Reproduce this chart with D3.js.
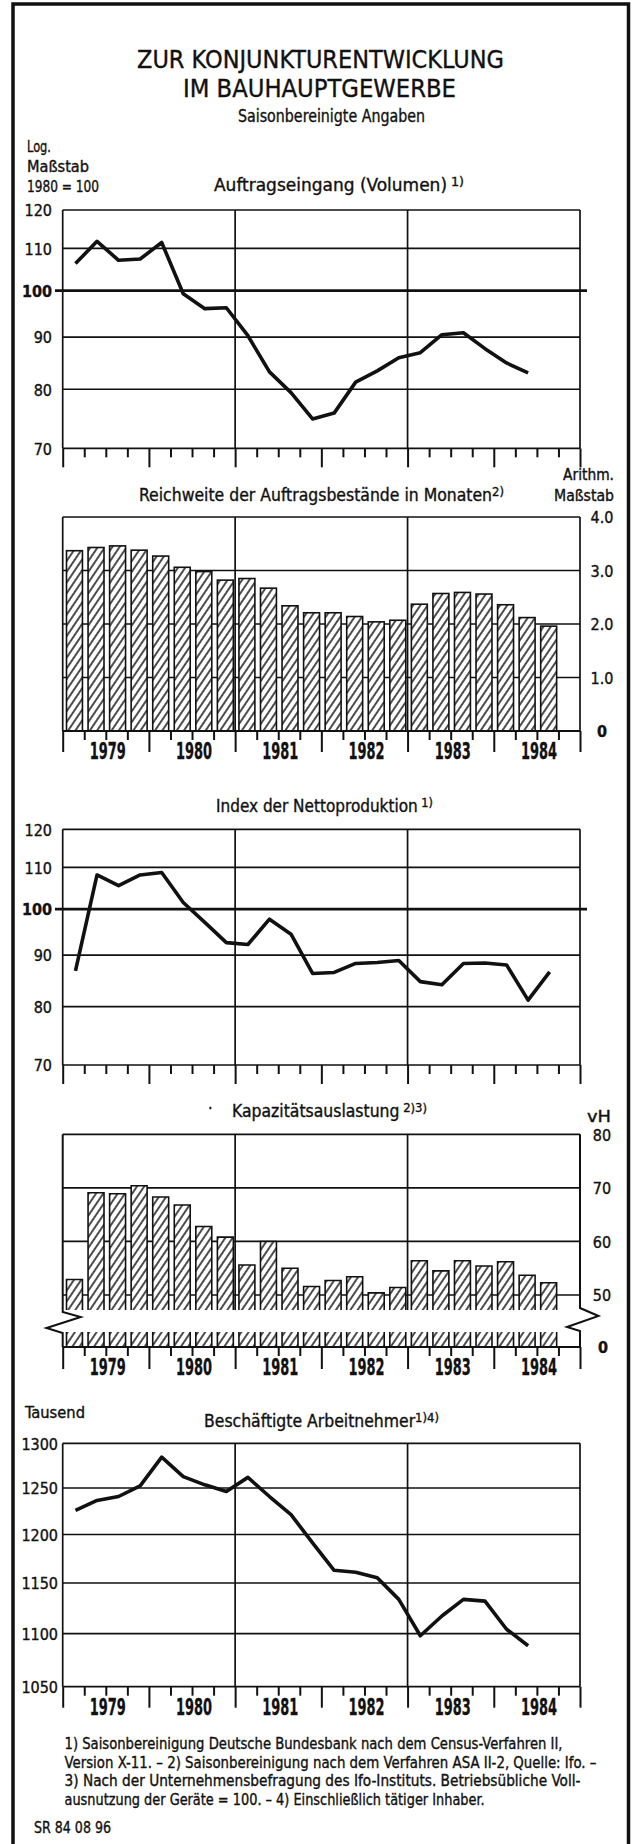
<!DOCTYPE html>
<html>
<head>
<meta charset="utf-8">
<script src="https://cdn.jsdelivr.net/npm/d3@7"></script>
<style>
  body { margin: 0; background: #fff; }
  text { font-family: "Liberation Sans Narrow", "DejaVu Sans Condensed", "Arial Narrow", sans-serif;
         fill: #111; stroke: #111; stroke-width: 0.35px; }
</style>
</head>
<body>
<script>
// quarters on the time axis (1979 I .. 1984 IV), data start with 1979 I
var quarters = ["1979 I","1979 II","1979 III","1979 IV","1980 I","1980 II","1980 III","1980 IV",
                "1981 I","1981 II","1981 III","1981 IV","1982 I","1982 II","1982 III","1982 IV",
                "1983 I","1983 II","1983 III","1983 IV","1984 I","1984 II","1984 III","1984 IV"];
var years = ["1979","1980","1981","1982","1983","1984"];

// Auftragseingang (Volumen), 1980 = 100
var auftrag = [106.3, 111.8, 107.1, 107.4, 111.5, 99.3, 96.0, 96.2, 90.3, 83.2, 79.4,
               74.8, 75.8, 81.3, 83.4, 85.9, 86.9, 90.5, 90.9, 87.7, 84.9, 83.0];
// Reichweite der Auftragsbestaende in Monaten
var reichweite = [3.37, 3.43, 3.46, 3.38, 3.27, 3.06, 2.98, 2.82, 2.85, 2.67, 2.34, 2.21,
                  2.21, 2.14, 2.04, 2.07, 2.37, 2.57, 2.59, 2.56, 2.36, 2.12, 1.96];
// Index der Nettoproduktion
var netto = [86.8, 108.1, 105.5, 108.1, 108.7, 101.5, 97.0, 92.6, 92.2, 97.7, 94.4, 86.3,
             86.5, 88.3, 88.5, 88.9, 84.7, 84.1, 88.3, 88.4, 88.0, 81.2, 86.6];
// Kapazitaetsauslastung in vH
var kapazitaet = [52.9, 69.1, 68.9, 70.4, 68.3, 66.8, 62.8, 60.8, 55.6, 60.0, 55.0, 51.6,
                  52.7, 53.4, 50.4, 51.4, 56.4, 54.5, 56.4, 55.4, 56.2, 53.7, 52.3];
// Beschaeftigte Arbeitnehmer in Tausend
var beschaeftigte = [1225.6, 1236.4, 1240.7, 1252.4, 1284.3, 1262.6, 1253.5, 1246.2, 1261.7,
                     1240.7, 1221.1, 1191.2, 1162.9, 1160.9, 1155.3, 1133.6, 1098.0, 1117.2,
                     1133.6, 1131.9, 1104.3, 1088.4];

var logTicks = [70, 80, 90, 100, 110, 120];
var reichTicks = [0, 1, 2, 3, 4];
var kapTicks = [50, 60, 70, 80];
var beschTicks = [1050, 1100, 1150, 1200, 1250, 1300];

var footnotes = [
  "1) Saisonbereinigung Deutsche Bundesbank nach dem Census-Verfahren II,",
  "Version X-11. \u2013 2) Saisonbereinigung nach dem Verfahren ASA II-2, Quelle: Ifo. \u2013",
  "3) Nach der Unternehmensbefragung des Ifo-Instituts. Betriebs\u00fcbliche Voll-",
  "ausnutzung der Ger\u00e4te = 100. \u2013 4) Einschlie\u00dflich t\u00e4tiger Inhaber."
];
var footLen = [498, 532, 516, 420];

var ink = "#111";
var W = 632, H = 1844;
var left = 62.7, right = 580;

var svg = d3.select("body").append("svg").attr("width", W).attr("height", H);

var defs = svg.append("defs");
var pat = defs.append("pattern").attr("id", "hatch").attr("patternUnits", "userSpaceOnUse")
  .attr("width", 6).attr("height", 6).attr("patternTransform", "rotate(34)");
pat.append("rect").attr("width", 6).attr("height", 6).attr("fill", "#fff");
pat.append("line").attr("x1", 3).attr("y1", -1).attr("x2", 3).attr("y2", 7)
  .attr("stroke", ink).attr("stroke-width", 1.5);

/*** scales shared by all panels ***/
var xq = d3.scaleLinear().domain([0, 24]).range([left, right]);
var xBand = d3.scaleBand().domain(quarters).range([left + 1, right + 1])
  .paddingInner(0.26).paddingOuter(0.13);
var xYear = d3.scaleBand().domain(years).range([left + 2, right + 2]);
var px = function(d, i) { return xBand(quarters[i]) + xBand.bandwidth() / 2 + 1; };

/*** helpers ***/
function label(str, x, y, o) {
  o = o || {};
  var size = o.size || 16;
  var t = svg.append("text").attr("x", x).attr("y", y)
    .attr("font-size", size)
    .attr("text-anchor", o.anchor || "start");
  t.append("tspan").text(str);
  var sup = null;
  if (o.sup) sup = t.append("tspan").attr("dy", -5).attr("font-size", 13).text(o.sup);
  if (o.bold) t.attr("font-weight", "bold");
  if (o.sup && o.len) {
    // shrink the heading until its natural width fits the measured width
    var nat = t.node().getComputedTextLength();
    if (nat > o.len) {
      var k = o.len / nat;
      t.attr("font-size", size * k);
      sup.attr("font-size", 13 * k);
    }
  }
  if (o.len) t.attr("textLength", o.len).attr("lengthAdjust", "spacingAndGlyphs");
  return t;
}
function hline(y, x1, x2, w) {
  svg.append("line").attr("x1", x1).attr("x2", x2).attr("y1", y).attr("y2", y)
    .attr("stroke", ink).attr("stroke-width", w || 1.7);
}
function vline(x, y1, y2, w) {
  svg.append("line").attr("x1", x).attr("x2", x).attr("y1", y1).attr("y2", y2)
    .attr("stroke", ink).attr("stroke-width", w || 1.7);
}
function styleAxis(g) {
  g.select(".domain").remove();
  g.selectAll(".tick line").attr("stroke", ink).attr("stroke-width", 2);
}
function bottomTicks(base, small, big) {
  svg.append("g").attr("transform", "translate(0," + base + ")")
    .call(d3.axisBottom(xq).tickValues(d3.range(0, 25).filter(function(q) { return q % 4; }))
      .tickSize(small).tickFormat(""))
    .call(styleAxis);
  svg.append("g").attr("transform", "translate(0," + base + ")")
    .call(d3.axisBottom(xq).tickValues(d3.range(0, 25, 4)).tickSize(big).tickFormat(""))
    .call(styleAxis);
}
function yearLabels(base) {
  svg.append("g").attr("transform", "translate(0," + base + ")")
    .call(d3.axisBottom(xYear).tickSize(0).tickPadding(12))
    .call(function(g) {
      g.select(".domain").remove();
      g.attr("font-family", null).attr("font-size", null);
      g.selectAll("text").attr("font-size", 23).attr("font-weight", "bold").attr("fill", ink)
        .attr("textLength", 36).attr("lengthAdjust", "spacingAndGlyphs");
    });
}
function leftLabels(y, ticks, xpos, boldVal) {
  svg.append("g").attr("transform", "translate(" + xpos + ",0)")
    .call(d3.axisLeft(y).tickValues(ticks).tickSize(0).tickPadding(0).tickFormat(d3.format("d")))
    .call(function(g) {
      g.select(".domain").remove();
      g.attr("font-family", null).attr("font-size", null);
      g.selectAll("text").attr("font-size", 16).attr("fill", ink).attr("dy", "0.36em")
        .attr("font-weight", function(d) { return d === boldVal ? "bold" : null; });
    });
}
function rightLabels(y, ticks, fmt) {
  svg.append("g").attr("transform", "translate(602,0)")
    .call(d3.axisRight(y).tickValues(ticks).tickSize(0).tickPadding(0).tickFormat(fmt))
    .call(function(g) {
      g.select(".domain").remove();
      g.attr("font-family", null).attr("font-size", null);
      g.selectAll("text").attr("font-size", 16).attr("fill", ink).attr("dy", "0.36em")
        .attr("text-anchor", "middle")
        .attr("font-weight", function(d) { return d === 0 ? "bold" : null; });
    });
}
function drawLine(y, data) {
  svg.append("path").datum(data)
    .attr("fill", "none").attr("stroke", ink).attr("stroke-width", 3.6)
    .attr("stroke-linejoin", "round").attr("stroke-linecap", "butt")
    .attr("d", d3.line().x(px).y(function(d) { return y(d); }));
}
function logPanel(y, data, ticks, has100) {
  var top = y(ticks[ticks.length - 1]), bot = y(ticks[0]);
  ticks.forEach(function(t) {
    if (t === 100 && has100) hline(y(t), 55, 587, 2.8);
    else hline(y(t), left, right);
  });
  [0, 8, 16, 24].forEach(function(q) { vline(xq(q), top, bot); });
  drawLine(y, data);
}

/*** frame and headings ***/
svg.append("rect").attr("x", 13).attr("y", 4).attr("width", 615.5).attr("height", H + 20)
  .attr("fill", "none").attr("stroke", ink).attr("stroke-width", 3.5);

label("ZUR KONJUNKTURENTWICKLUNG", 137, 68, { size: 25, len: 367 });
label("IM BAUHAUPTGEWERBE", 183, 97, { size: 25, len: 273 });
label("Saisonbereinigte Angaben", 238, 122, { size: 18, len: 187 });

/*** 1: Auftragseingang ***/
label("Log.", 27, 152, { size: 15.5, len: 24 });
label("Ma\u00dfstab", 27, 172, { size: 15.5, len: 62 });
label("1980 = 100", 27, 192, { size: 15.5, len: 72 });
label("Auftragseingang (Volumen)", 214, 191, { size: 17.5, sup: " 1)", len: 250 });

var y1 = d3.scaleLog().domain([70, 120]).range([448.3, 210]);
logPanel(y1, auftrag, logTicks, true);
leftLabels(y1, logTicks, 52, 100);
bottomTicks(448.3, 9, 19);

/*** 2: Reichweite ***/
label("Arithm.", 614, 480, { size: 15, anchor: "end", len: 51 });
label("Ma\u00dfstab", 614, 501, { size: 15, anchor: "end", len: 60 });
label("Reichweite der Auftragsbest\u00e4nde in Monaten", 139, 501, { size: 17.5, sup: "2)", len: 365 });

var y2 = d3.scaleLinear().domain([0, 4]).range([731, 517]);
reichTicks.slice(1).forEach(function(t) { hline(y2(t), left, right); });
[0, 8, 16, 24].forEach(function(q) { vline(xq(q), y2(4), y2(0)); });
svg.append("g").selectAll("rect").data(reichweite).enter().append("rect")
  .attr("x", function(d, i) { return xBand(quarters[i]); })
  .attr("width", xBand.bandwidth())
  .attr("y", function(d) { return y2(d); })
  .attr("height", function(d) { return y2(0) - y2(d); })
  .attr("fill", "url(#hatch)").attr("stroke", ink).attr("stroke-width", 1.6);
hline(y2(0), left, right, 2);
rightLabels(y2, reichTicks, function(d) { return d === 0 ? "0" : d3.format(".1f")(d); });
bottomTicks(731, 9, 21);
yearLabels(731);

/*** 3: Nettoproduktion ***/
label("Index der Nettoproduktion", 216, 812, { size: 17.5, sup: " 1)", len: 217 });

var y3 = d3.scaleLog().domain([70, 120]).range([1065, 829.3]);
logPanel(y3, netto, logTicks, true);
leftLabels(y3, logTicks, 52, 100);
bottomTicks(1065, 9, 19);

/*** 4: Kapazitaetsauslastung ***/
label("\u00b7", 208, 1114, { size: 16 });
label("Kapazit\u00e4tsauslastung", 232, 1117, { size: 17.5, sup: " 2)3)", len: 195 });
label("vH", 587, 1122, { size: 15.5, len: 24 });

var y4 = d3.scaleLinear().domain([50, 80]).range([1295, 1134.3]);
var breakTop = 1310, lowTop = 1332, base4 = 1347;
kapTicks.forEach(function(t) { hline(y4(t), left, right); });
vline(xq(8), y4(80), breakTop);
vline(xq(16), y4(80), breakTop);
var bars4 = svg.append("g");
bars4.selectAll("path.up").data(kapazitaet).enter().append("path")
  .attr("d", function(d, i) {
    var x0 = xBand(quarters[i]), x1 = x0 + xBand.bandwidth();
    return "M" + x0 + "," + breakTop + "V" + y4(d) + "H" + x1 + "V" + breakTop;
  })
  .attr("fill", "url(#hatch)").attr("stroke", ink).attr("stroke-width", 1.6);
bars4.selectAll("rect.low").data(kapazitaet).enter().append("rect")
  .attr("x", function(d, i) { return xBand(quarters[i]); })
  .attr("width", xBand.bandwidth())
  .attr("y", lowTop).attr("height", base4 - lowTop)
  .attr("fill", "url(#hatch)");
bars4.selectAll("path.low").data(kapazitaet).enter().append("path")
  .attr("d", function(d, i) {
    var x0 = xBand(quarters[i]), x1 = x0 + xBand.bandwidth();
    return "M" + x0 + "," + lowTop + "V" + base4 + "M" + x1 + "," + lowTop + "V" + base4;
  })
  .attr("fill", "none").attr("stroke", ink).attr("stroke-width", 1.6);
// axis break marks on both sides
svg.append("path")
  .attr("d", "M" + left + "," + y4(80) + "V1312L" + (left + 18) + ",1317L46.5,1328L" + left + ",1333V" + base4)
  .attr("fill", "none").attr("stroke", ink).attr("stroke-width", 2);
svg.append("path")
  .attr("d", "M" + right + "," + y4(80) + "V1308L598.5,1316L567,1327L" + right + ",1331V" + base4)
  .attr("fill", "none").attr("stroke", ink).attr("stroke-width", 2);
hline(base4, left, right, 2);
rightLabels(y4, kapTicks, d3.format("d"));
label("0", 603, base4 + 6, { size: 16, bold: true, anchor: "middle" });
bottomTicks(base4, 9, 22);
yearLabels(base4);

/*** 5: Beschaeftigte Arbeitnehmer ***/
label("Tausend", 25, 1418, { size: 15.5, len: 60 });
label("Besch\u00e4ftigte Arbeitnehmer", 204, 1427, { size: 17.5, sup: "1)4)", len: 235 });

var y5 = d3.scaleLog().domain([1050, 1300]).range([1686.7, 1443.3]);
logPanel(y5, beschaeftigte, beschTicks, false);
leftLabels(y5, beschTicks, 58, null);
bottomTicks(1686.7, 9, 21);
yearLabels(1686.7);

/*** footnotes ***/
footnotes.forEach(function(f, i) {
  label(f, 64.5, 1749 + i * 18.7, { size: 15.5, len: footLen[i] });
});
label("SR 84 08 96", 34, 1833, { size: 15.5, len: 77 });
</script>
</body>
</html>
